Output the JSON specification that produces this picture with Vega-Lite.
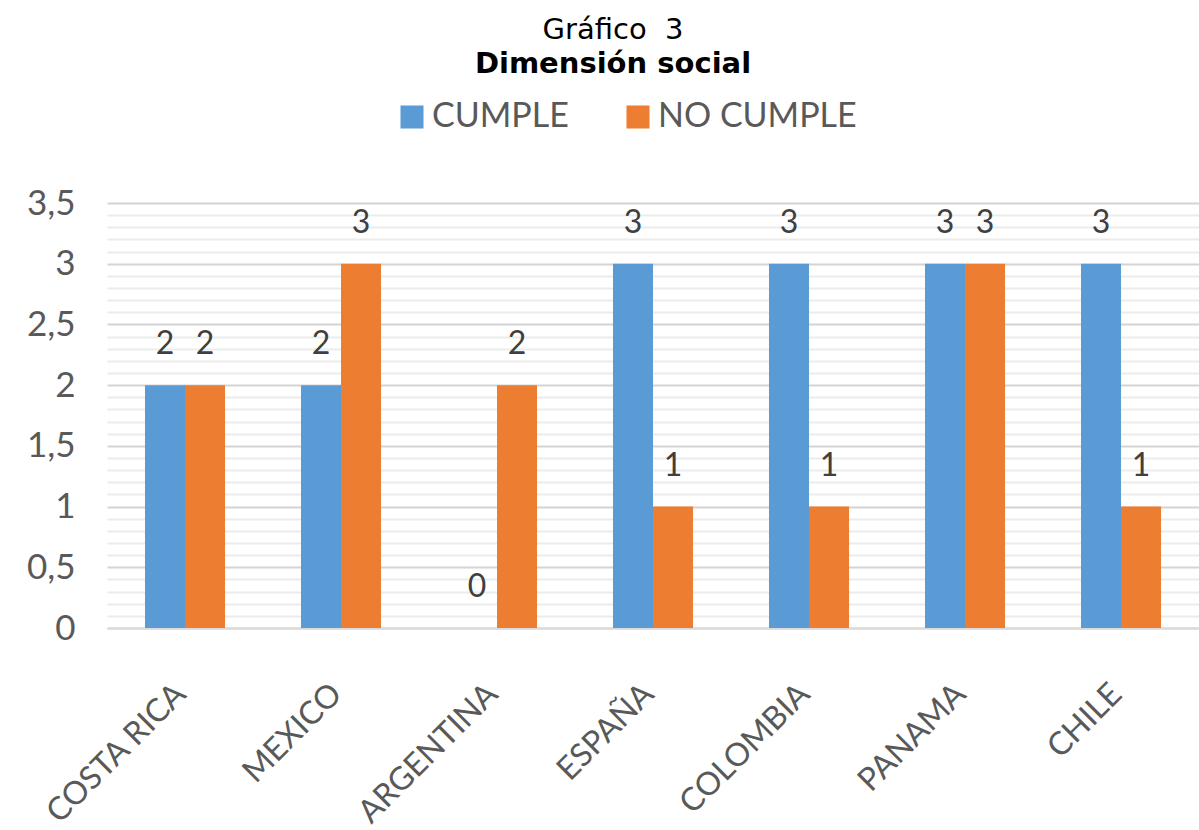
{
  "$schema": "https://vega.github.io/schema/vega-lite/v6.json",
  "autosize": {"type": "none"},
  "width": 1092,
  "height": 425,
  "padding": {"left": 107, "top": 203, "right": 0, "bottom": 202},
  "background": "white",
  "title": {
    "text": "Gráfico\u00a0\u00a03",
    "subtitle": "Dimensión social",
    "anchor": "middle",
    "frame": "group",
    "dx": -40,
    "font": "DejaVu Sans",
    "fontSize": 29,
    "fontWeight": "normal",
    "color": "#000000",
    "subtitleFont": "DejaVu Sans",
    "subtitleFontSize": 29,
    "subtitleFontWeight": "bold",
    "subtitleColor": "#000000",
    "subtitlePadding": 5,
    "offset": 21
  },
  "data": {
    "values": [
      {"country": "COSTA RICA", "serie": "CUMPLE", "value": 2},
      {"country": "COSTA RICA", "serie": "NO CUMPLE", "value": 2},
      {"country": "MEXICO", "serie": "CUMPLE", "value": 2},
      {"country": "MEXICO", "serie": "NO CUMPLE", "value": 3},
      {"country": "ARGENTINA", "serie": "CUMPLE", "value": 0},
      {"country": "ARGENTINA", "serie": "NO CUMPLE", "value": 2},
      {"country": "ESPAÑA", "serie": "CUMPLE", "value": 3},
      {"country": "ESPAÑA", "serie": "NO CUMPLE", "value": 1},
      {"country": "COLOMBIA", "serie": "CUMPLE", "value": 3},
      {"country": "COLOMBIA", "serie": "NO CUMPLE", "value": 1},
      {"country": "PANAMA", "serie": "CUMPLE", "value": 3},
      {"country": "PANAMA", "serie": "NO CUMPLE", "value": 3},
      {"country": "CHILE", "serie": "CUMPLE", "value": 3},
      {"country": "CHILE", "serie": "NO CUMPLE", "value": 1}
    ]
  },
  "encoding": {
    "x": {
      "field": "country",
      "type": "nominal",
      "sort": null,
      "scale": {"paddingInner": 0.487, "paddingOuter": 0.2435},
      "axis": {
        "title": null,
        "labelAngle": -45,
        "labelFont": "Lato",
        "labelFontSize": 32,
        "labelColor": "#595959",
        "labelPadding": 50,
        "labelOffset": -15,
        "labelLimit": 400,
        "ticks": false,
        "domainColor": "#d9d9d9",
        "domainWidth": 2,
        "grid": false
      }
    },
    "xOffset": {
      "field": "serie",
      "type": "nominal",
      "sort": ["CUMPLE", "NO CUMPLE"],
      "scale": {"paddingInner": 0, "paddingOuter": 0}
    },
    "y": {
      "field": "value",
      "type": "quantitative",
      "scale": {"domain": [0, 3.5], "nice": false},
      "axis": {
        "title": null,
        "values": [0, 0.1, 0.2, 0.3, 0.4, 0.5, 0.6, 0.7, 0.8, 0.9, 1, 1.1, 1.2, 1.3, 1.4, 1.5, 1.6, 1.7, 1.8, 1.9, 2, 2.1, 2.2, 2.3, 2.4, 2.5, 2.6, 2.7, 2.8, 2.9, 3, 3.1, 3.2, 3.3, 3.4, 3.5],
        "labelExpr": "abs(datum.value*2 - round(datum.value*2)) < 0.001 ? replace(format(datum.value, '~g'), '.', ',') : ''",
        "labelFont": "Lato",
        "labelFontSize": 35,
        "labelColor": "#595959",
        "labelPadding": 32,
        "ticks": false,
        "domain": false,
        "grid": true,
        "gridColor": {
          "condition": {"test": "abs(datum.value*2 - round(datum.value*2)) < 0.001", "value": "#d4d4d4"},
          "value": "#ececec"
        },
        "gridWidth": 2
      }
    }
  },
  "layer": [
    {
      "mark": {"type": "bar"},
      "encoding": {
        "color": {
          "field": "serie",
          "type": "nominal",
          "scale": {"domain": ["CUMPLE", "NO CUMPLE"], "range": ["#5b9bd5", "#ed7d31"]},
          "legend": {
            "title": null,
            "orient": "none",
            "direction": "horizontal",
            "legendX": 288,
            "legendY": -103,
            "symbolType": "square",
            "symbolSize": 530,
            "symbolStrokeWidth": 0,
            "labelFont": "Lato",
            "labelFontSize": 34,
            "labelColor": "#595959",
            "labelOffset": 3,
            "labelLimit": 400,
            "columnPadding": 52
          }
        }
      }
    },
    {
      "mark": {"type": "text", "dy": -41, "font": "Lato", "fontSize": 32, "color": "#404040"},
      "encoding": {
        "text": {"field": "value", "type": "quantitative"}
      }
    }
  ],
  "config": {
    "view": {"stroke": null}
  }
}
